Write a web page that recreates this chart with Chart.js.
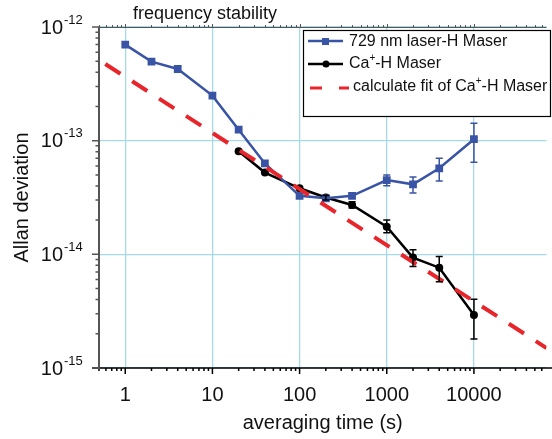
<!DOCTYPE html>
<html>
<head>
<meta charset="utf-8">
<script src="https://cdn.jsdelivr.net/npm/chart.js@4.4.1/dist/chart.umd.min.js"></script>
<style>
html, body { margin: 0; padding: 0; background: #fff; }
#wrap { width: 552px; height: 439px; }
</style>
</head>
<body>
<div id="wrap"><canvas id="allanChart" width="552" height="439"></canvas></div>
<script>
// averaging times and Allan deviations
const tauLaser = [1, 2, 4, 10, 20, 40, 100, 200, 400, 1000, 2000, 4000, 10000];
const adevLaser = [7.0e-13, 4.96e-13, 4.27e-13, 2.49e-13, 1.25e-13, 6.3e-14, 3.27e-14, 3.11e-14, 3.27e-14, 4.5e-14, 4.13e-14, 5.71e-14, 1.03e-13];
const laserErrHi = [null, null, null, null, null, null, null, null, 3.42e-14, 5.0e-14, 4.8e-14, 7.0e-14, 1.42e-13];
const laserErrLo = [null, null, null, null, null, null, null, null, 3.11e-14, 4.02e-14, 3.47e-14, 4.42e-14, 6.45e-14];

const tauCa = [20, 40, 100, 200, 400, 1000, 2000, 4000, 10000];
const adevCa = [8.07e-14, 5.24e-14, 3.81e-14, 3.16e-14, 2.72e-14, 1.75e-14, 9.36e-15, 7.63e-15, 2.93e-15];
const caErrHi = [null, null, null, 3.3e-14, 2.9e-14, 2.0e-14, 1.1e-14, 9.55e-15, 4.02e-15];
const caErrLo = [null, null, null, 3.0e-14, 2.56e-14, 1.55e-14, 7.8e-15, 5.75e-15, 1.8e-15];

// fitted line, two end points
const tauFit = [0.59, 68000];
const adevFit = [4.73e-13, 1.5e-15];

const xTicks = [1, 10, 100, 1000, 10000];
const xTickLabels = ['1', '10', '100', '1000', '10000'];
const yTicks = [1e-15, 1e-14, 1e-13, 1e-12];
const yTickExps = ['-15', '-14', '-13', '-12'];

const BLUE = '#3a54a5';
const RED = '#e8252b';
const GRID = '#a6dae6';
const FONT = '"Liberation Sans", Arial, sans-serif';

Chart.defaults.font.family = FONT;

function toPoints(xs, ys) {
    return xs.map((x, i) => ({ x: x, y: ys[i] }));
}

// error bars, drawn through the scales
const errorBars = {
    id: 'errorBars',
    afterDatasetsDraw(chart) {
        const ctx = chart.ctx;
        const x = chart.scales.x, y = chart.scales.y;
        const sets = [
            { t: tauCa, hi: caErrHi, lo: caErrLo, color: '#000' },
            { t: tauLaser, hi: laserErrHi, lo: laserErrLo, color: BLUE }
        ];
        ctx.save();
        ctx.lineWidth = 1.5;
        sets.forEach(s => {
            ctx.strokeStyle = s.color;
            s.t.forEach((t, i) => {
                if (s.hi[i] == null) return;
                const px = x.getPixelForValue(t);
                const top = y.getPixelForValue(s.hi[i]);
                const bot = y.getPixelForValue(s.lo[i]);
                ctx.beginPath();
                ctx.moveTo(px, top); ctx.lineTo(px, bot);
                ctx.moveTo(px - 3.5, top); ctx.lineTo(px + 3.5, top);
                ctx.moveTo(px - 3.5, bot); ctx.lineTo(px + 3.5, bot);
                ctx.stroke();
            });
        });
        ctx.restore();
    }
};

// axis frame, minor ticks, y labels with exponents, title, legend box
const decor = {
    id: 'decor',
    afterDraw(chart) {
        const ctx = chart.ctx;
        const a = chart.chartArea;
        const x = chart.scales.x, y = chart.scales.y;
        ctx.save();

        // top line with small ticks
        ctx.strokeStyle = '#555';
        ctx.lineWidth = 1;
        ctx.beginPath();
        ctx.moveTo(a.left, a.top + 0.5); ctx.lineTo(a.right, a.top + 0.5);
        for (let d = -1; d <= 4; d++) {
            for (let m = 1; m <= 9; m++) {
                const v = m * Math.pow(10, d);
                if (v < 0.5 || v > 68000) continue;
                const px = Math.round(x.getPixelForValue(v)) + 0.5;
                ctx.moveTo(px, a.top); ctx.lineTo(px, a.top - (m === 1 ? 3 : 2));
            }
        }
        ctx.stroke();

        // bottom axis
        ctx.strokeStyle = '#000';
        ctx.lineWidth = 1.5;
        ctx.beginPath();
        ctx.moveTo(a.left - 7, a.bottom); ctx.lineTo(chart.width, a.bottom);
        for (let d = -1; d <= 4; d++) {
            for (let m = 1; m <= 9; m++) {
                const v = m * Math.pow(10, d);
                if (v < 0.5 || v > 68000) continue;
                const px = x.getPixelForValue(v);
                ctx.moveTo(px, a.bottom); ctx.lineTo(px, a.bottom + (m === 1 ? 6 : 3));
            }
        }
        ctx.stroke();

        // left axis
        ctx.strokeStyle = '#555';
        ctx.lineWidth = 2;
        ctx.beginPath();
        ctx.moveTo(a.left, a.top); ctx.lineTo(a.left, a.bottom + 1);
        ctx.stroke();
        ctx.lineWidth = 1.5;
        ctx.beginPath();
        for (let d = -15; d <= -12; d++) {
            for (let m = 1; m <= 9; m++) {
                const v = m * Math.pow(10, d);
                if (v > 1.0001e-12) continue;
                const py = y.getPixelForValue(v);
                ctx.moveTo(a.left, py); ctx.lineTo(a.left - (m === 1 ? 7 : 3.5), py);
            }
        }
        ctx.stroke();

        // y tick labels as 10 with superscript exponent
        ctx.fillStyle = '#111';
        yTicks.forEach((v, i) => {
            const py = y.getPixelForValue(v);
            ctx.font = '20px ' + FONT;
            ctx.textAlign = 'right';
            ctx.textBaseline = 'middle';
            ctx.fillText('10', 63, py + 1);
            ctx.font = '13px ' + FONT;
            ctx.textAlign = 'left';
            ctx.fillText(yTickExps[i], 64, py - 7);
        });

        // title above plot
        ctx.font = '18px ' + FONT;
        ctx.textAlign = 'center';
        ctx.textBaseline = 'alphabetic';
        ctx.fillText('frequency stability', 205, 19);

        // legend
        const lx = 303, ly = 30, lw = 247, lh = 86;
        ctx.fillStyle = '#fff';
        ctx.fillRect(lx, ly, lw, lh);
        ctx.strokeStyle = '#000';
        ctx.lineWidth = 1.2;
        ctx.strokeRect(lx + 0.5, ly + 0.5, lw, lh);

        ctx.lineWidth = 2.5;
        ctx.strokeStyle = BLUE;
        ctx.beginPath(); ctx.moveTo(308, 41); ctx.lineTo(343, 41); ctx.stroke();
        ctx.fillStyle = BLUE;
        ctx.fillRect(322, 38, 7, 7);

        ctx.strokeStyle = '#000';
        ctx.beginPath(); ctx.moveTo(308, 64); ctx.lineTo(343, 64); ctx.stroke();
        ctx.fillStyle = '#000';
        ctx.beginPath(); ctx.arc(326, 64, 3.5, 0, Math.PI * 2); ctx.fill();

        ctx.strokeStyle = RED;
        ctx.lineWidth = 3;
        ctx.beginPath();
        ctx.moveTo(310, 88); ctx.lineTo(322, 88);
        ctx.moveTo(339, 88); ctx.lineTo(349, 88);
        ctx.stroke();

        ctx.fillStyle = '#111';
        ctx.textAlign = 'left';
        ctx.textBaseline = 'middle';
        ctx.font = '16px ' + FONT;
        ctx.fillText('729 nm laser-H Maser', 349, 42);

        function supText(parts, x0, y0) {
            let cx = x0;
            parts.forEach(p => {
                ctx.font = (p.sup ? '10px ' : '16px ') + FONT;
                ctx.fillText(p.t, cx, p.sup ? y0 - 6 : y0);
                cx += ctx.measureText(p.t).width;
            });
        }
        supText([{ t: 'Ca' }, { t: '+', sup: true }, { t: '-H Maser' }], 349, 64);
        supText([{ t: 'calculate fit of Ca' }, { t: '+', sup: true }, { t: '-H Maser' }], 353, 87);

        ctx.restore();
    }
};

new Chart(document.getElementById('allanChart'), {
    type: 'line',
    data: {
        datasets: [
            {
                label: 'calculate fit of Ca+-H Maser',
                data: toPoints(tauFit, adevFit),
                borderColor: RED,
                borderWidth: 4,
                borderDash: [18, 14],
                pointRadius: 0,
                order: 0
            },
            {
                label: '729 nm laser-H Maser',
                data: toPoints(tauLaser, adevLaser),
                borderColor: BLUE,
                backgroundColor: BLUE,
                borderWidth: 2.5,
                pointStyle: 'rect',
                pointRadius: 5.5,
                pointBorderWidth: 0,
                order: 1
            },
            {
                label: 'Ca+-H Maser',
                data: toPoints(tauCa, adevCa),
                borderColor: '#000',
                backgroundColor: '#000',
                borderWidth: 2.5,
                pointStyle: 'circle',
                pointRadius: 4,
                pointBorderWidth: 0,
                order: 2
            }
        ]
    },
    options: {
        responsive: false,
        animation: false,
        devicePixelRatio: 1,
        layout: { padding: { top: 27, left: 0, right: 2, bottom: 0 } },
        plugins: {
            legend: { display: false },
            tooltip: { enabled: false }
        },
        scales: {
            x: {
                type: 'logarithmic',
                min: 0.5,
                max: 68000,
                afterBuildTicks: scale => { scale.ticks = xTicks.map(v => ({ value: v })); },
                afterFit: scale => { scale.height = 71; },
                border: { display: false },
                grid: { color: GRID, lineWidth: 1.3, drawTicks: false },
                ticks: {
                    color: '#111',
                    font: { size: 20 },
                    padding: 15,
                    maxRotation: 0,
                    callback: value => xTickLabels[xTicks.indexOf(value)]
                },
                title: {
                    display: true,
                    text: 'averaging time (s)',
                    color: '#111',
                    font: { size: 20 },
                    padding: { top: 0, bottom: 4 }
                }
            },
            y: {
                type: 'logarithmic',
                min: 1e-15,
                max: 1e-12,
                afterBuildTicks: scale => { scale.ticks = yTicks.map(v => ({ value: v })); },
                afterFit: scale => { scale.width = 99; },
                border: { display: false },
                grid: { color: GRID, lineWidth: 1.3, drawTicks: false },
                ticks: { display: false },
                title: {
                    display: true,
                    text: 'Allan deviation',
                    color: '#111',
                    font: { size: 20 },
                    padding: { top: 10, bottom: 0 }
                }
            }
        }
    },
    plugins: [errorBars, decor]
});
</script>
</body>
</html>
